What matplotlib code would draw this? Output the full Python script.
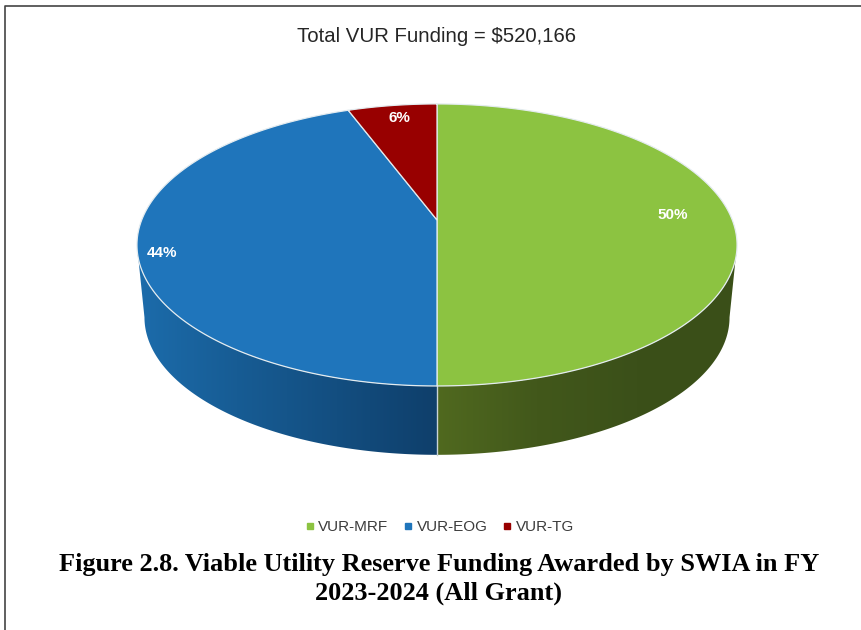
import numpy as np
import matplotlib
matplotlib.use("Agg")
from matplotlib import pyplot as plt
from matplotlib.colors import LinearSegmentedColormap
from matplotlib.lines import Line2D
from matplotlib.patches import Polygon

categories = ["VUR-MRF", "VUR-EOG", "VUR-TG"]
percents = [50.0, 44.3, 5.7]
colors = ["#8cc341", "#1f75bb", "#980000"]

title = "Total VUR Funding = $520,166"
caption = ["Figure 2.8. Viable Utility Reserve Funding Awarded by SWIA in FY",
           "2023-2024 (All Grant)"]

# pie geometry in image pixels, the pie is drawn with a perspective tilt
cx = 437
top_y = 220
bottom_y = 293
bottom_scale = 0.975
rx = 295.3
ry = 136.6
tilt = 0.177
label_xy = [(673, 215), (162, 253), (399, 118)]


def rim(theta, y0=top_y, scale=1.0):
    # theta in degrees, clockwise from 12 o'clock
    t = np.radians(theta)
    d = 1 + tilt * np.cos(t)
    return cx + scale * rx * np.sin(t) / d, y0 - scale * ry * np.cos(t) / d


def side_poly(a, b):
    th = np.linspace(a, b, 120)
    x1, y1 = rim(th)
    x2, y2 = rim(th[::-1], bottom_y, bottom_scale)
    return np.column_stack([np.r_[x1, x2], np.r_[y1, y2]])


fig = plt.figure(figsize=(8.62, 6.30), dpi=100)
ax = fig.add_axes([0, 0, 1, 1])

# visible side walls, shaded with a gradient
limit = np.degrees(np.arccos(-tilt))
walls = [
    (limit, 180, ["#50691f", "#42581b", "#3b5019", "#3a4f18"], (437, 737)),
    (180, 360 - limit, ["#1c6cab", "#175c94", "#134e80", "#0f3f6b"], (137, 437)),
]
for a, b, stops, (x0, x1) in walls:
    cmap = LinearSegmentedColormap.from_list("wall", stops)
    grad = np.linspace(0, 1, 256).reshape(1, -1)
    im = ax.imshow(grad, cmap=cmap, extent=(x0, x1, 460, 240), aspect="auto", zorder=1)
    poly = Polygon(side_poly(a, b), closed=True, transform=ax.transData, fc="none", ec="none")
    ax.add_patch(poly)
    im.set_clip_path(poly)

# seam on the front of the wall
sx, sy = rim(180)
bx, by = rim(180, bottom_y, bottom_scale)
ax.plot([sx, bx], [sy, by], color="#c9d3d8", lw=1, zorder=2)

# top face
start = 0
for pct, col in zip(percents, colors):
    end = start + pct * 3.6
    th = np.linspace(start, end, 200)
    x, y = rim(th)
    ax.fill(np.r_[cx, x], np.r_[top_y, y], fc=col, ec="#e4ecf0", lw=0.9, zorder=3)
    start = end

for pct, (lx, ly) in zip(percents, label_xy):
    ax.text(lx, ly, f"{pct:.0f}%", color="white", fontsize=11, fontweight="bold",
            family="Liberation Sans", ha="center", va="center", zorder=4)

ax.text(437, 36, title, fontsize=14.7, family="Liberation Sans", color="#262626",
        ha="center", va="center")

handles = [Line2D([], [], ls="none", marker="s", ms=4, color=c) for c in colors]
leg = ax.legend(handles, categories, ncol=3, loc="center", bbox_to_anchor=(440, 527),
                bbox_transform=ax.transData, frameon=False, handlelength=0.5,
                handletextpad=0.3, columnspacing=1.05,
                prop={"family": "Liberation Sans", "size": 11})
for t in leg.get_texts():
    t.set_color("#3c3c3c")

for line, yy in zip(caption, [565, 593]):
    ax.text(439, yy, line, fontsize=18.9, fontweight="bold", family="Liberation Serif",
            color="black", ha="center", va="center")

# page frame
ax.plot([5, 5, 862], [630, 6, 6], color="#444444", lw=1.2)

ax.set_xlim(0, 862)
ax.set_ylim(630, 0)
ax.axis("off")
fig.savefig("out.png", dpi=100, facecolor="white")
